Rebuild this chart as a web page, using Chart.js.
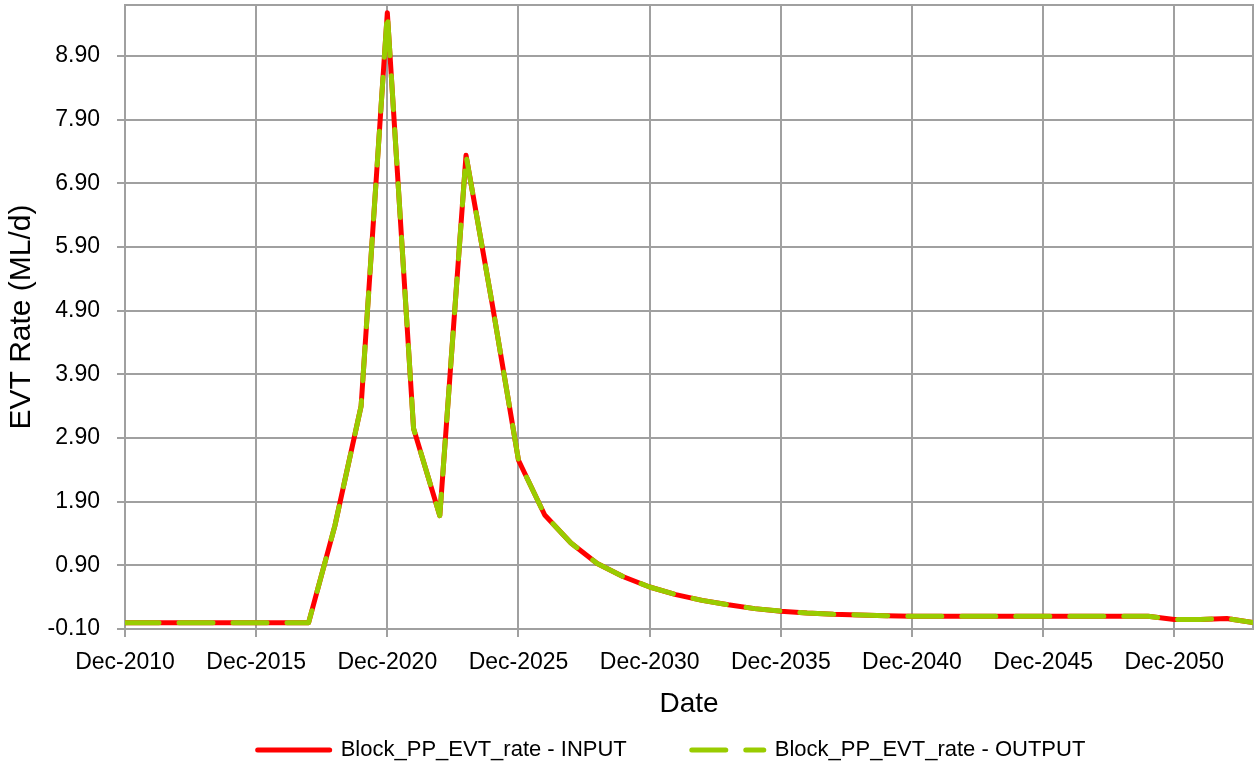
<!DOCTYPE html>
<html>
<head>
<meta charset="utf-8">
<script src="https://cdn.jsdelivr.net/npm/chart.js@4.4.1/dist/chart.umd.min.js"></script>
<style>
    html, body { margin: 0; padding: 0; background: #fff; }
    canvas { display: block; }
</style>
</head>
<body>
<canvas id="chart" width="1254" height="771"></canvas>
<script>
    // yearly values, reported each December
    const years = [2010, 2011, 2012, 2013, 2014, 2015, 2016, 2017, 2018, 2019,
        2020, 2021, 2022, 2023, 2024, 2025, 2026, 2027, 2028, 2029,
        2030, 2031, 2032, 2033, 2034, 2035, 2036, 2037, 2038, 2039,
        2040, 2041, 2042, 2043, 2044, 2045, 2046, 2047, 2048, 2049,
        2050, 2051, 2052, 2053];

    const inputRate = [0, 0, 0, 0, 0, 0, 0, 0, 1.52, 3.40,
        9.58, 3.05, 1.68, 7.34, 5.00, 2.55, 1.69, 1.25, 0.93, 0.72,
        0.56, 0.44, 0.35, 0.28, 0.22, 0.18, 0.15, 0.13, 0.12, 0.11,
        0.10, 0.10, 0.10, 0.10, 0.10, 0.10, 0.10, 0.10, 0.10, 0.10,
        0.05, 0.05, 0.065, 0.0];

    const outputRate = [0, 0, 0, 0, 0, 0, 0, 0, 1.52, 3.40,
        9.58, 3.05, 1.68, 7.34, 5.00, 2.55, 1.69, 1.25, 0.93, 0.72,
        0.56, 0.44, 0.35, 0.28, 0.22, 0.18, 0.15, 0.13, 0.12, 0.11,
        0.10, 0.10, 0.10, 0.10, 0.10, 0.10, 0.10, 0.10, 0.10, 0.10,
        0.05, 0.05, 0.065, 0.0];

    const xTickYears = [2010, 2015, 2020, 2025, 2030, 2035, 2040, 2045, 2050];
    const yTickValues = [-0.1, 0.9, 1.9, 2.9, 3.9, 4.9, 5.9, 6.9, 7.9, 8.9];

    const FONT = "'Liberation Sans', Arial, sans-serif";
    const GRID = '#a0a0a0';
    const LEGEND_GAP = 65;     // space between the two legend entries
    const LEGEND_SHIFT = 45;   // legend row sits a little right of centre

    function toPoints(values) {
        return years.map((yr, i) => ({ x: yr, y: values[i] }));
    }

    // frame around the plot area (top and right edges have no tick line)
    const plotFrame = {
        id: 'plotFrame',
        beforeDatasetsDraw(chart) {
            const { ctx, chartArea: a } = chart;
            ctx.save();
            ctx.strokeStyle = GRID;
            ctx.lineWidth = 2;
            ctx.strokeRect(a.left, a.top, a.right - a.left, a.bottom - a.top);
            ctx.restore();
        }
    };

    const legendShift = {
        id: 'legendShift',
        afterLayout(chart) {
            chart.legend.left += LEGEND_SHIFT;
            chart.legend.right += LEGEND_SHIFT;
        }
    };

    // legend samples drawn as line segments that keep the dataset dash
    function legendLabels(chart) {
        const items = Chart.defaults.plugins.legend.labels.generateLabels(chart);
        items.forEach(item => {
            const ds = chart.data.datasets[item.datasetIndex];
            item.lineDash = ds.borderDash || [];
            item.lineCap = ds.borderCapStyle || 'butt';
        });
        return items.sort((a, b) => a.datasetIndex - b.datasetIndex);
    }

    new Chart(document.getElementById('chart').getContext('2d'), {
        type: 'line',
        data: {
            datasets: [{
                label: 'Block_PP_EVT_rate - INPUT',
                data: toPoints(inputRate),
                borderColor: '#ff0000',
                backgroundColor: '#ff0000',
                borderWidth: 5,
                borderCapStyle: 'round',
                borderJoinStyle: 'round',
                pointRadius: 0,
                tension: 0,
                order: 1
            }, {
                label: 'Block_PP_EVT_rate - OUTPUT',
                data: toPoints(outputRate),
                borderColor: '#99cc00',
                backgroundColor: '#99cc00',
                borderWidth: 5,
                borderDash: [34, 20],
                borderCapStyle: 'round',
                borderJoinStyle: 'round',
                pointRadius: 0,
                tension: 0,
                order: 0
            }]
        },
        options: {
            responsive: false,
            animation: false,
            layout: { padding: { top: 5, right: 1, left: 0, bottom: 0 } },
            plugins: {
                legend: {
                    position: 'bottom',
                    labels: {
                        usePointStyle: true,
                        pointStyle: 'line',
                        pointStyleWidth: 72,
                        padding: LEGEND_GAP,
                        color: '#000',
                        font: { family: FONT, size: 22 },
                        generateLabels: legendLabels
                    }
                },
                tooltip: { enabled: false }
            },
            scales: {
                x: {
                    type: 'linear',
                    min: 2010,
                    max: 2053,
                    afterFit(scale) {
                        scale.height = 45;
                        scale.paddingLeft = 0;
                        scale.paddingRight = 0;
                    },
                    afterBuildTicks(scale) {
                        scale.ticks = xTickYears.map(v => ({ value: v }));
                    },
                    ticks: {
                        padding: 12,
                        maxRotation: 0,
                        color: '#000',
                        font: { family: FONT, size: 23 },
                        callback: v => 'Dec-' + v
                    },
                    grid: { color: GRID, lineWidth: 2, tickLength: 8 },
                    border: { color: GRID, width: 2 },
                    title: {
                        display: true,
                        text: 'Date',
                        color: '#000',
                        font: { family: FONT, size: 28 },
                        padding: { top: 0, bottom: -47 }
                    }
                },
                y: {
                    min: -0.1,
                    max: 9.7,
                    afterFit(scale) {
                        scale.width = 125;
                        scale.paddingTop = 0;
                        scale.paddingBottom = 0;
                    },
                    afterBuildTicks(scale) {
                        scale.ticks = yTickValues.map(v => ({ value: v }));
                    },
                    ticks: {
                        padding: 17,
                        color: '#000',
                        font: { family: FONT, size: 23 },
                        callback: v => v.toFixed(2)
                    },
                    grid: { color: GRID, lineWidth: 2, tickLength: 8 },
                    border: { color: GRID, width: 2 },
                    title: {
                        display: true,
                        text: 'EVT Rate (ML/d)',
                        color: '#000',
                        font: { family: FONT, size: 30 },
                        padding: { top: 4, bottom: 0 }
                    }
                }
            }
        },
        plugins: [plotFrame, legendShift]
    });
</script>
</body>
</html>
